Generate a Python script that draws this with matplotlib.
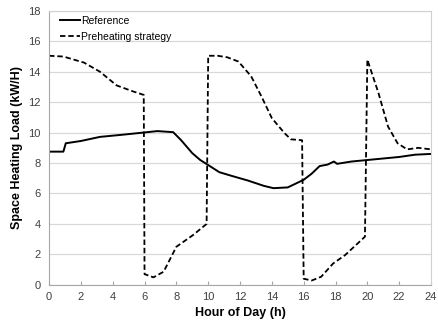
import numpy as np
import matplotlib.pyplot as plt

plt.rcParams['font.family'] = ['Liberation Sans', 'DejaVu Sans']

# reference load (kW/H)
ref_hour = [0, 0.9, 1.05, 2, 3.2, 4.5, 5.9, 6.8, 7.8, 8.3, 9.0, 9.5, 10, 10.7, 11.5,
            12.5, 13.5, 14.1, 15, 16, 16.5, 17, 17.5, 17.9, 18.1, 19, 20, 21, 22, 23, 24]
ref_load = [8.75, 8.75, 9.3, 9.45, 9.72, 9.85, 10.0, 10.1, 10.03, 9.5, 8.65, 8.2, 7.87,
            7.4, 7.15, 6.85, 6.5, 6.35, 6.4, 6.9, 7.3, 7.8, 7.9, 8.1, 7.95, 8.1, 8.2,
            8.3, 8.4, 8.55, 8.6]

# preheating strategy load
pre_hour = [0, 0.9, 2.2, 3.2, 4.25, 5.3, 5.95, 6.0, 6.56, 7.2, 8.0, 9.05, 9.9, 10.0,
            10.6, 11.2, 11.9, 12.7, 13.35, 14.0, 14.8, 15.2, 15.9, 16.0, 16.5, 17.1,
            17.85, 18.6, 19.85, 20.0, 20.7, 21.3, 21.9, 22.5, 23.2, 24]
pre_load = [15.05, 15.0, 14.6, 14.0, 13.1, 12.7, 12.48, 0.7, 0.49, 0.86, 2.5, 3.27, 4.0,
            15.05, 15.05, 14.95, 14.67, 13.7, 12.37, 10.95, 9.96, 9.56, 9.5, 0.4, 0.28,
            0.53, 1.4, 1.95, 3.16, 14.8, 12.6, 10.4, 9.3, 8.9, 9.0, 8.9]

fig = plt.figure(figsize=(4.38, 3.2), dpi=100)
ax = fig.add_axes([0.112, 0.11, 0.872, 0.856])

ax.plot(ref_hour, ref_load, color='black', lw=1.4, label='Reference')
ax.plot(pre_hour, pre_load, color='black', lw=1.3, ls=(0, (3, 1.6)), label='Preheating strategy')

ax.set_xlim(0, 24)
ax.set_ylim(0, 18)
ax.set_xticks(np.arange(0, 25, 2))
ax.set_yticks(np.arange(0, 19, 2))
ax.grid(axis='y', color='#d9d9d9', lw=0.9)
ax.set_axisbelow(True)
for s in ax.spines.values():
    s.set_color('#d0d0d0')
ax.spines['bottom'].set_color('#a6a6a6')
ax.spines['left'].set_color('#a6a6a6')
ax.tick_params(axis='x', direction='in', length=3, color='#a6a6a6', labelsize=8,
               labelcolor='#404040', pad=5)
ax.tick_params(axis='y', length=0, labelsize=8, labelcolor='#404040', pad=6)

ax.set_xlabel('Hour of Day (h)', fontsize=9, fontweight='bold')
ax.set_ylabel('Space Heating Load (kW/H)', fontsize=9, fontweight='bold')

ax.legend(loc='upper left', bbox_to_anchor=(0.018, 0.995), frameon=False, fontsize=7.5,
          handlelength=2.0, handletextpad=0.1, borderaxespad=0.0, borderpad=0.35,
          labelspacing=0.55)

plt.savefig('out.png', dpi=100)
plt.close()
